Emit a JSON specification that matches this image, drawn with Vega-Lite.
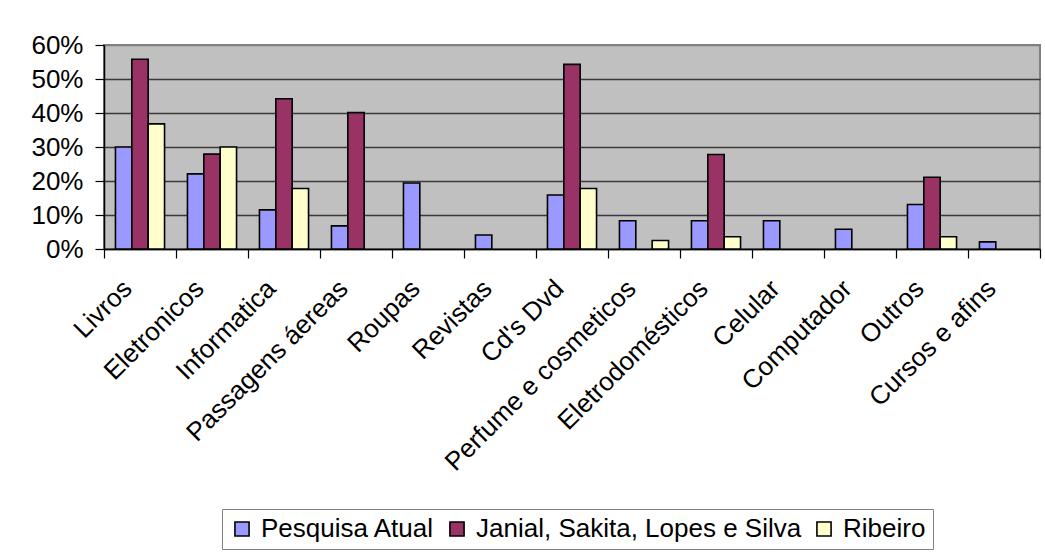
{
  "$schema": "https://vega.github.io/schema/vega-lite/v6.json",
  "width": 936,
  "height": 204,
  "autosize": "none",
  "padding": {"left": 104, "top": 45, "right": 5, "bottom": 307},
  "background": "white",
  "config": {
    "font": "Liberation Sans",
    "view": {"fill": "#C0C0C0", "stroke": "#808080", "strokeWidth": 2},
    "axis": {"labelColor": "black", "domainColor": "black", "tickColor": "black", "domainWidth": 1.5, "tickWidth": 1.2}
  },
  "data": {
    "values": [
      {"categoria": "Livros", "serie": "Pesquisa Atual", "valor": 0.30},
      {"categoria": "Livros", "serie": "Janial, Sakita, Lopes e Silva", "valor": 0.558},
      {"categoria": "Livros", "serie": "Ribeiro", "valor": 0.368},
      {"categoria": "Eletronicos", "serie": "Pesquisa Atual", "valor": 0.221},
      {"categoria": "Eletronicos", "serie": "Janial, Sakita, Lopes e Silva", "valor": 0.279},
      {"categoria": "Eletronicos", "serie": "Ribeiro", "valor": 0.30},
      {"categoria": "Informatica", "serie": "Pesquisa Atual", "valor": 0.115},
      {"categoria": "Informatica", "serie": "Janial, Sakita, Lopes e Silva", "valor": 0.442},
      {"categoria": "Informatica", "serie": "Ribeiro", "valor": 0.178},
      {"categoria": "Passagens áereas", "serie": "Pesquisa Atual", "valor": 0.068},
      {"categoria": "Passagens áereas", "serie": "Janial, Sakita, Lopes e Silva", "valor": 0.401},
      {"categoria": "Roupas", "serie": "Pesquisa Atual", "valor": 0.194},
      {"categoria": "Revistas", "serie": "Pesquisa Atual", "valor": 0.041},
      {"categoria": "Cd's Dvd", "serie": "Pesquisa Atual", "valor": 0.159},
      {"categoria": "Cd's Dvd", "serie": "Janial, Sakita, Lopes e Silva", "valor": 0.543},
      {"categoria": "Cd's Dvd", "serie": "Ribeiro", "valor": 0.178},
      {"categoria": "Perfume e cosmeticos", "serie": "Pesquisa Atual", "valor": 0.083},
      {"categoria": "Perfume e cosmeticos", "serie": "Ribeiro", "valor": 0.025},
      {"categoria": "Eletrodomésticos", "serie": "Pesquisa Atual", "valor": 0.083},
      {"categoria": "Eletrodomésticos", "serie": "Janial, Sakita, Lopes e Silva", "valor": 0.278},
      {"categoria": "Eletrodomésticos", "serie": "Ribeiro", "valor": 0.036},
      {"categoria": "Celular", "serie": "Pesquisa Atual", "valor": 0.083},
      {"categoria": "Computador", "serie": "Pesquisa Atual", "valor": 0.058},
      {"categoria": "Outros", "serie": "Pesquisa Atual", "valor": 0.131},
      {"categoria": "Outros", "serie": "Janial, Sakita, Lopes e Silva", "valor": 0.211},
      {"categoria": "Outros", "serie": "Ribeiro", "valor": 0.036},
      {"categoria": "Cursos e afins", "serie": "Pesquisa Atual", "valor": 0.021}
    ]
  },
  "mark": {"type": "bar", "stroke": "black", "strokeWidth": 1.6},
  "encoding": {
    "x": {
      "field": "categoria",
      "type": "nominal",
      "sort": ["Livros", "Eletronicos", "Informatica", "Passagens áereas", "Roupas", "Revistas", "Cd's Dvd", "Perfume e cosmeticos", "Eletrodomésticos", "Celular", "Computador", "Outros", "Cursos e afins"],
      "scale": {"paddingInner": 0, "paddingOuter": 0},
      "axis": {
        "title": null,
        "labelAngle": -45,
        "labelFontSize": 26,
        "labelPadding": 17,
        "labelOffset": -22,
        "labelLimit": 400,
        "labelOverlap": false,
        "tickBand": "extent",
        "tickSize": 9
      }
    },
    "xOffset": {
      "field": "serie",
      "sort": ["Pesquisa Atual", "Janial, Sakita, Lopes e Silva", "Ribeiro"],
      "scale": {"domain": ["Pesquisa Atual", "Janial, Sakita, Lopes e Silva", "Ribeiro"], "paddingInner": 0, "paddingOuter": 0.7}
    },
    "y": {
      "field": "valor",
      "type": "quantitative",
      "scale": {"domain": [0, 0.6], "nice": false},
      "axis": {
        "title": null,
        "format": ".0%",
        "values": [0, 0.1, 0.2, 0.3, 0.4, 0.5, 0.6],
        "labelFontSize": 26,
        "labelPadding": 12,
        "tickSize": 9,
        "grid": true,
        "gridColor": {"condition": {"test": "datum.value >= 0.59", "value": "#808080"}, "value": "#3a3a3a"},
        "gridWidth": 1.5
      }
    },
    "color": {
      "field": "serie",
      "type": "nominal",
      "sort": ["Pesquisa Atual", "Janial, Sakita, Lopes e Silva", "Ribeiro"],
      "scale": {"domain": ["Pesquisa Atual", "Janial, Sakita, Lopes e Silva", "Ribeiro"], "range": ["#9999FF", "#993366", "#FFFFCC"]},
      "legend": {
        "title": null,
        "orient": "none",
        "legendX": 118,
        "legendY": 464,
        "direction": "horizontal",
        "symbolType": "square",
        "symbolSize": 200,
        "symbolStrokeColor": "black",
        "symbolStrokeWidth": 1.6,
        "labelFontSize": 26,
        "labelColor": "black",
        "labelLimit": 500,
        "labelOffset": 6,
        "columnPadding": 9,
        "strokeColor": "#808080",
        "fillColor": "white",
        "padding": 7
      }
    }
  }
}
